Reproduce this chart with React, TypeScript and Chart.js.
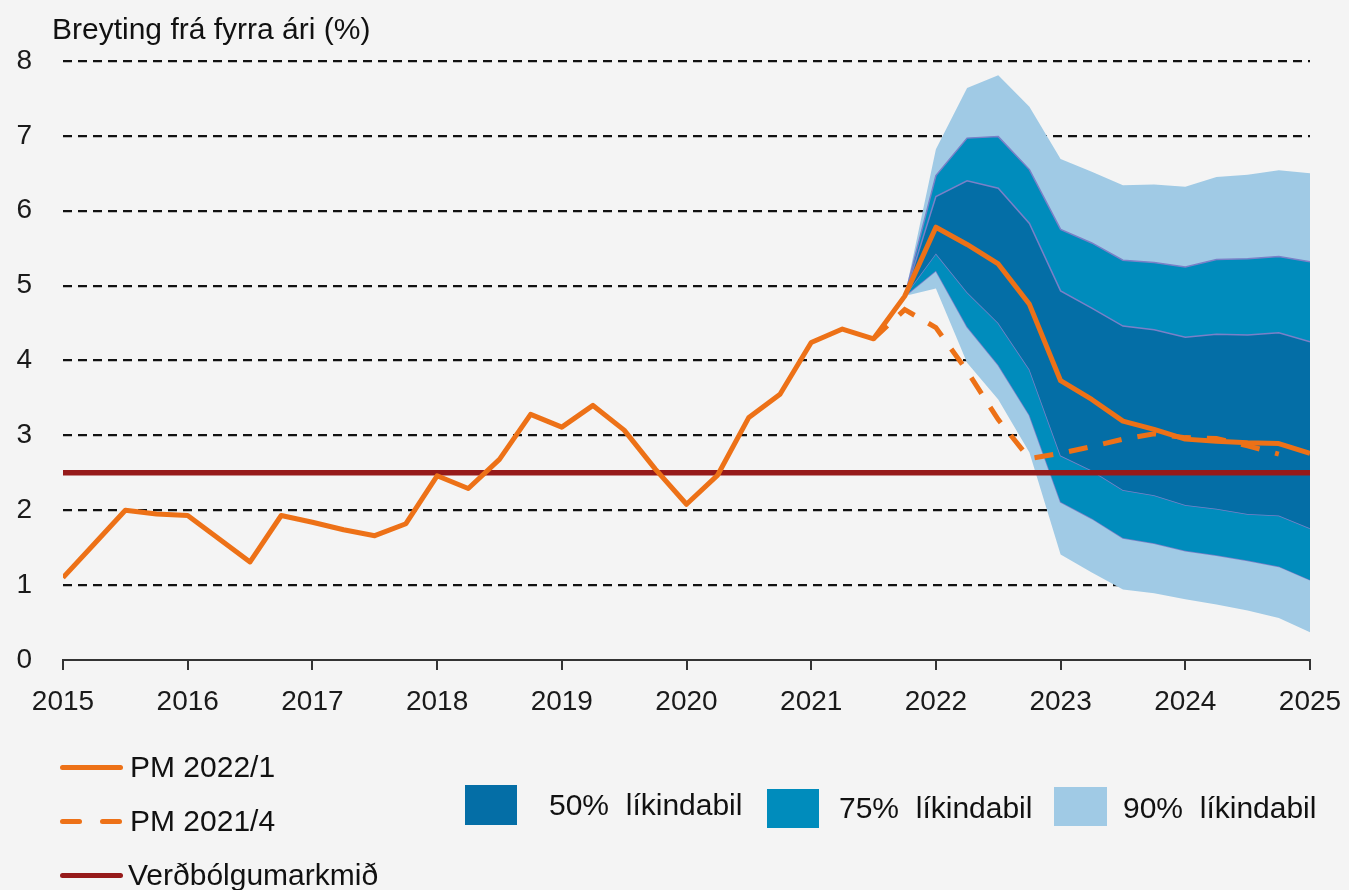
import React, { useEffect, useRef } from 'react';
import { Chart, registerables } from 'chart.js';

Chart.register(...registerables);

// Quarterly values, 2015Q1 .. 2025Q1
const pm2022 = [
  1.10, 1.55, 2.00, 1.95, 1.93, 1.62, 1.31, 1.93, 1.84, 1.74, 1.66, 1.82,
  2.46, 2.29, 2.68, 3.28, 3.11, 3.40, 3.07, 2.55, 2.08, 2.47, 3.24, 3.55,
  4.24, 4.42, 4.29, 4.86, 5.78, 5.55, 5.29, 4.75, 3.73, 3.48, 3.19, 3.08,
  2.95, 2.92, 2.90, 2.89, 2.76,
];

const N = null;
const pm2021 = [
  N, N, N, N, N, N, N, N, N, N, N, N, N, N, N, N, N, N, N, N, N, N, N, N, N, N,
  4.29, 4.68, 4.44, 3.86, 3.21, 2.69, 2.76, 2.85, 2.95, 3.02, 2.97, 2.96, 2.86, 2.75, N,
];

const fanPad = [N, N, N, N, N, N, N, N, N, N, N, N, N, N, N, N, N, N, N, N, N, N, N, N, N, N, N];
const upper90 = [...fanPad, 4.86, 6.82, 7.64, 7.81, 7.39, 6.69, 6.52, 6.34, 6.35, 6.32, 6.45, 6.48, 6.54, 6.50];
const upper75 = [...fanPad, 4.86, 6.47, 6.97, 6.99, 6.55, 5.75, 5.57, 5.34, 5.31, 5.25, 5.35, 5.36, 5.39, 5.32];
const upper50 = [...fanPad, 4.86, 6.19, 6.40, 6.30, 5.83, 4.93, 4.70, 4.46, 4.41, 4.31, 4.35, 4.34, 4.37, 4.25];
const lower50 = [...fanPad, 4.86, 5.43, 4.91, 4.50, 3.88, 2.73, 2.53, 2.27, 2.20, 2.07, 2.02, 1.95, 1.93, 1.76];
const lower75 = [...fanPad, 4.86, 5.20, 4.45, 3.94, 3.27, 2.11, 1.89, 1.63, 1.56, 1.46, 1.40, 1.33, 1.25, 1.07];
const lower90 = [...fanPad, 4.86, 4.96, 3.97, 3.48, 2.77, 1.41, 1.17, 0.94, 0.89, 0.81, 0.74, 0.66, 0.56, 0.37];

const targetYears = [2015, 2025];
const targetValues = [2.5, 2.5];

const firstYear = 2015;
const lastYear = 2025;
const yMin = 0;
const yMax = 8;

const FONT = '"Liberation Sans", Arial, sans-serif';
const ORANGE = '#ed7117';
const RED = '#961a1a';
const DARK = '#046ea6';
const MID = '#008cbc';
const LIGHT = '#a0cae5';
const EDGE = '#7a80c8';
const BG = '#f4f4f4';

const toPoints = (vals: (number | null)[]) =>
  vals.map((v, i) => ({ x: firstYear + i / 4, y: v }));

export default function App() {
  const ref = useRef<HTMLCanvasElement | null>(null);

  useEffect(() => {
    if (!ref.current) return;
    const fanBase = {
      pointRadius: 0,
      borderWidth: 1.5,
      borderColor: EDGE,
      tension: 0,
    };
    const chart = new Chart(ref.current, {
      type: 'line',
      data: {
        datasets: [
          {
            label: 'PM 2022/1',
            data: toPoints(pm2022),
            borderColor: ORANGE,
            borderWidth: 5,
            pointRadius: 0,
            borderJoinStyle: 'round',
            fill: false,
          },
          {
            label: 'PM 2021/4',
            data: toPoints(pm2021),
            borderColor: ORANGE,
            borderWidth: 5,
            borderDash: [19, 16],
            pointRadius: 0,
            fill: false,
          },
          {
            label: 'Verðbólgumarkmið',
            data: targetYears.map((x, i) => ({ x, y: targetValues[i] })),
            borderColor: RED,
            borderWidth: 5.5,
            pointRadius: 0,
            fill: false,
          },
          { label: 'u50', data: toPoints(upper50), ...fanBase, fill: '+1', backgroundColor: DARK },
          { label: 'l50', data: toPoints(lower50), ...fanBase, fill: false },
          { label: 'u75', data: toPoints(upper75), ...fanBase, fill: '+1', backgroundColor: MID },
          { label: 'l75', data: toPoints(lower75), ...fanBase, fill: false },
          { label: 'u90', data: toPoints(upper90), ...fanBase, borderWidth: 0, borderColor: LIGHT, fill: '+1', backgroundColor: LIGHT },
          { label: 'l90', data: toPoints(lower90), ...fanBase, borderWidth: 0, borderColor: LIGHT, fill: false },
        ] as any,
      },
      options: {
        responsive: false,
        animation: false,
        devicePixelRatio: 1,
        layout: { padding: { left: 0, right: 39, top: 61, bottom: 0 } },
        plugins: {
          legend: { display: false },
          tooltip: { enabled: false },
          title: { display: false },
        },
        scales: {
          x: {
            type: 'linear',
            min: firstYear,
            max: lastYear,
            afterFit: (s: any) => {
              s.height = 230;
              s.paddingLeft = 0;
              s.paddingRight = 0;
            },
            ticks: {
              stepSize: 1,
              autoSkip: false,
              maxRotation: 0,
              padding: 15,
              color: '#1a1a1a',
              font: { family: FONT, size: 28 },
              callback: (v: any) => String(v),
            },
            grid: {
              display: true,
              drawOnChartArea: false,
              drawTicks: true,
              tickLength: 10,
              color: '#333333',
              lineWidth: 2,
            },
            border: { display: true, color: '#333333', width: 2 },
          },
          y: {
            type: 'linear',
            min: yMin,
            max: yMax,
            afterFit: (s: any) => {
              s.width = 63;
              s.paddingTop = 0;
              s.paddingBottom = 0;
            },
            ticks: {
              stepSize: 1,
              padding: 31,
              color: '#1a1a1a',
              font: { family: FONT, size: 28 },
            },
            grid: {
              color: (ctx: any) => (ctx.tick && ctx.tick.value === 0 ? 'rgba(0,0,0,0)' : '#111111'),
              lineWidth: 2.2,
              drawTicks: false,
            },
            border: { display: false, dash: [9, 6] },
          },
        },
      } as any,
    });
    return () => chart.destroy();
  }, []);

  const text: React.CSSProperties = {
    position: 'absolute',
    fontFamily: FONT,
    fontSize: 30,
    lineHeight: '36px',
    color: '#111',
    whiteSpace: 'pre',
  };
  const swatch = (left: number, top: number, width: number, color: string): React.CSSProperties => ({
    position: 'absolute',
    left,
    top: top - 2.5,
    width,
    height: 5,
    borderRadius: 2.5,
    background: color,
  });
  const box = (left: number, top: number, w: number, h: number, color: string): React.CSSProperties => ({
    position: 'absolute',
    left,
    top,
    width: w,
    height: h,
    background: color,
  });

  return (
    <div style={{ position: 'absolute', left: 0, top: 0, width: 1349, height: 890, background: BG, overflow: 'hidden' }}>
      <canvas ref={ref} width={1349} height={890} style={{ position: 'absolute', left: 0, top: 0, display: 'block' }} />
      <div style={{ ...text, left: 52, top: 11 }}>Breyting frá fyrra ári (%)</div>

      <div style={swatch(60, 767, 63, ORANGE)} />
      <div style={{ ...text, left: 130, top: 749 }}>PM 2022/1</div>

      <div style={swatch(60, 821, 22, ORANGE)} />
      <div style={swatch(100, 821, 22, ORANGE)} />
      <div style={{ ...text, left: 130, top: 803 }}>PM 2021/4</div>

      <div style={swatch(60, 875, 63, RED)} />
      <div style={{ ...text, left: 128, top: 857 }}>Verðbólgumarkmið</div>

      <div style={box(465, 785, 52, 40, DARK)} />
      <div style={{ ...text, left: 549, top: 787 }}>{'50%  líkindabil'}</div>
      <div style={box(767, 789, 52, 39, MID)} />
      <div style={{ ...text, left: 839, top: 790 }}>{'75%  líkindabil'}</div>
      <div style={box(1054, 787, 53, 39, LIGHT)} />
      <div style={{ ...text, left: 1123, top: 790 }}>{'90%  líkindabil'}</div>
    </div>
  );
}
